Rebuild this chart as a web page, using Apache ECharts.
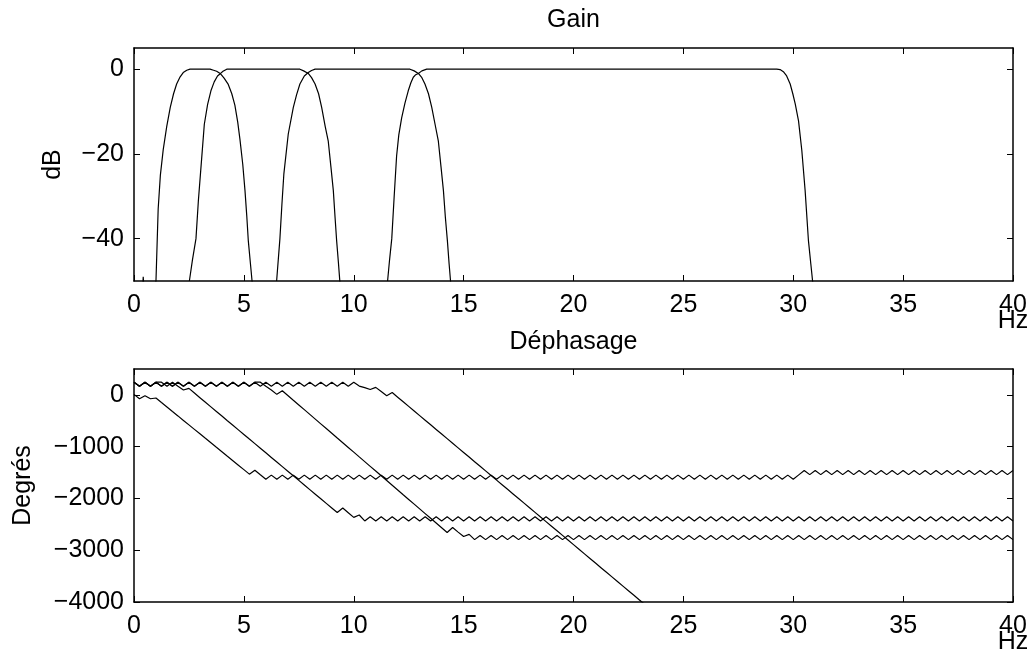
<!DOCTYPE html>
<html>
<head>
<meta charset="utf-8">
<script src="https://cdn.jsdelivr.net/npm/echarts@6/dist/echarts.min.js"></script>
<style>
html,body{margin:0;padding:0;background:#fff;}
#chart{width:1031px;height:659px;}
</style>
</head>
<body>
<div id="chart"></div>
<script>
// ---------- data ----------
const freqTicks = [0, 5, 10, 15, 20, 25, 30, 35, 40];
const gainTicks = [-40, -20, 0];
const phaseTicks = [-4000, -3000, -2000, -1000, 0];

// gain curves [Hz, dB]
const gainDelta = [[0.30,-60],[0.42,-49],[0.54,-60],[1.00,-50],[1.10,-33],[1.20,-25],[1.33,-19],[1.49,-13.5],[1.65,-9],[1.80,-5.8],[1.94,-3.5],[2.10,-1.8],[2.24,-0.8],[2.40,-0.25],[2.55,0],[3.46,0],[3.62,-0.25],[3.76,-0.5],[3.94,-1.1],[4.10,-2.1],[4.29,-3.6],[4.45,-5.8],[4.59,-8.5],[4.72,-12.5],[4.82,-16.5],[4.95,-22.5],[5.05,-28.6],[5.13,-34.5],[5.20,-40.4],[5.30,-46],[5.39,-51]];
const gainTheta = [[2.52,-50],[2.66,-45],[2.82,-40],[2.93,-31],[3.05,-23],[3.20,-13],[3.35,-8.3],[3.50,-5.1],[3.65,-3],[3.80,-1.6],[3.94,-1.0],[4.05,-0.5],[4.22,0],[7.55,0],[7.72,-0.4],[7.93,-1.0],[8.08,-2.0],[8.24,-3.5],[8.40,-5.8],[8.54,-9],[8.70,-13.5],[8.84,-17],[8.96,-23],[9.07,-28.6],[9.15,-35],[9.22,-40.4],[9.30,-45.5],[9.38,-51]];
const gainAlpha = [[6.49,-50],[6.64,-40],[6.73,-32],[6.82,-24.7],[7.02,-15.3],[7.25,-9],[7.40,-6],[7.55,-3.5],[7.75,-1.6],[7.93,-0.8],[8.08,-0.3],[8.24,0],[12.56,0],[12.75,-0.4],[12.94,-1.0],[13.10,-2.0],[13.24,-3.5],[13.40,-5.8],[13.55,-9],[13.70,-13],[13.85,-17],[13.97,-23],[14.08,-28.6],[14.17,-35],[14.26,-40.4],[14.34,-46],[14.42,-51]];
const gainBeta = [[11.54,-50],[11.63,-45],[11.73,-40],[11.84,-30],[11.95,-20.5],[12.05,-15.5],[12.18,-11.5],[12.33,-8],[12.48,-5.1],[12.60,-3.2],[12.71,-1.9],[12.82,-1.3],[12.94,-1.0],[13.10,-0.4],[13.32,0],[29.25,0],[29.40,-0.1],[29.55,-0.6],[29.70,-1.6],[29.86,-3.5],[29.98,-5.8],[30.09,-8.2],[30.24,-12.2],[30.39,-19.2],[30.54,-28.6],[30.69,-40.4],[30.80,-46],[30.90,-51]];

// phase curves sampled every 0.25 Hz (degrees)
const freqHz = [
 0,0.25,0.5,0.75,1,1.25,1.5,1.75,2,2.25,2.5,2.75,3,3.25,3.5,3.75,4,4.25,4.5,4.75,
 5,5.25,5.5,5.75,6,6.25,6.5,6.75,7,7.25,7.5,7.75,8,8.25,8.5,8.75,9,9.25,9.5,9.75,
 10,10.25,10.5,10.75,11,11.25,11.5,11.75,12,12.25,12.5,12.75,13,13.25,13.5,13.75,14,14.25,14.5,14.75,
 15,15.25,15.5,15.75,16,16.25,16.5,16.75,17,17.25,17.5,17.75,18,18.25,18.5,18.75,19,19.25,19.5,19.75,
 20,20.25,20.5,20.75,21,21.25,21.5,21.75,22,22.25,22.5,22.75,23,23.25,23.5,23.75,24,24.25,24.5,24.75,
 25,25.25,25.5,25.75,26,26.25,26.5,26.75,27,27.25,27.5,27.75,28,28.25,28.5,28.75,29,29.25,29.5,29.75,
 30,30.25,30.5,30.75,31,31.25,31.5,31.75,32,32.25,32.5,32.75,33,33.25,33.5,33.75,34,34.25,34.5,34.75,
 35,35.25,35.5,35.75,36,36.25,36.5,36.75,37,37.25,37.5,37.75,38,38.25,38.5,38.75,39,39.25,39.5,39.75,
 40];

const phaseDelta = [
 10,-75,-15,-75,-60,-147,-233,-320,-406,-493,-579,-666,-752,-839,-925,-1012,-1098,-1185,-1271,-1358,
 -1444,-1531,-1455,-1543,-1630,-1550,-1630,-1550,-1630,-1550,-1630,-1550,-1630,-1550,-1630,-1550,-1630,-1550,-1630,-1550,
 -1630,-1550,-1630,-1550,-1630,-1550,-1630,-1550,-1630,-1550,-1630,-1550,-1630,-1550,-1630,-1550,-1630,-1550,-1630,-1550,
 -1630,-1550,-1630,-1550,-1630,-1550,-1630,-1550,-1630,-1550,-1630,-1550,-1630,-1550,-1630,-1550,-1630,-1550,-1630,-1550,
 -1630,-1550,-1630,-1550,-1630,-1550,-1630,-1550,-1630,-1550,-1630,-1550,-1630,-1550,-1630,-1550,-1630,-1550,-1630,-1550,
 -1630,-1550,-1630,-1550,-1630,-1550,-1630,-1550,-1630,-1550,-1630,-1550,-1630,-1550,-1630,-1550,-1630,-1550,-1630,-1550,
 -1630,-1545,-1460,-1540,-1460,-1540,-1460,-1540,-1460,-1540,-1460,-1540,-1460,-1540,-1460,-1540,-1460,-1540,-1460,-1540,
 -1460,-1540,-1460,-1540,-1460,-1540,-1460,-1540,-1460,-1540,-1460,-1540,-1460,-1540,-1460,-1540,-1460,-1540,-1460,-1540,
 -1460];

const phaseTheta = [
 245,165,245,165,245,245,165,245,165,95,125,35,-54,-143,-231,-320,-409,-498,-586,-675,
 -764,-853,-941,-1030,-1119,-1208,-1296,-1385,-1474,-1563,-1651,-1740,-1829,-1918,-2006,-2095,-2184,-2273,-2185,-2275,
 -2365,-2320,-2435,-2355,-2435,-2355,-2435,-2355,-2435,-2355,-2435,-2355,-2435,-2355,-2435,-2355,-2435,-2355,-2435,-2355,
 -2435,-2355,-2435,-2355,-2435,-2355,-2435,-2355,-2435,-2355,-2435,-2355,-2435,-2355,-2435,-2355,-2435,-2355,-2435,-2355,
 -2435,-2355,-2435,-2355,-2435,-2355,-2435,-2355,-2435,-2355,-2435,-2355,-2435,-2355,-2435,-2355,-2435,-2355,-2435,-2355,
 -2435,-2355,-2435,-2355,-2435,-2355,-2435,-2355,-2435,-2355,-2435,-2355,-2435,-2355,-2435,-2355,-2435,-2355,-2435,-2355,
 -2435,-2355,-2435,-2355,-2435,-2355,-2435,-2355,-2435,-2355,-2435,-2355,-2435,-2355,-2435,-2355,-2435,-2355,-2435,-2355,
 -2435,-2355,-2435,-2355,-2435,-2355,-2435,-2355,-2435,-2355,-2435,-2355,-2435,-2355,-2435,-2355,-2435,-2355,-2435,-2355,
 -2435];

const phaseAlpha = [
 245,165,245,165,245,165,245,165,245,165,245,165,245,165,245,165,245,165,245,165,
 245,165,245,245,165,95,10,80,-11,-103,-194,-285,-376,-468,-559,-650,-741,-833,-924,-1015,
 -1106,-1198,-1289,-1380,-1471,-1563,-1654,-1745,-1836,-1928,-2019,-2110,-2201,-2293,-2384,-2475,-2566,-2658,-2560,-2650,
 -2735,-2695,-2795,-2715,-2795,-2715,-2795,-2715,-2795,-2715,-2795,-2715,-2795,-2715,-2795,-2715,-2795,-2715,-2795,-2715,
 -2795,-2715,-2795,-2715,-2795,-2715,-2795,-2715,-2795,-2715,-2795,-2715,-2795,-2715,-2795,-2715,-2795,-2715,-2795,-2715,
 -2795,-2715,-2795,-2715,-2795,-2715,-2795,-2715,-2795,-2715,-2795,-2715,-2795,-2715,-2795,-2715,-2795,-2715,-2795,-2715,
 -2795,-2715,-2795,-2715,-2795,-2715,-2795,-2715,-2795,-2715,-2795,-2715,-2795,-2715,-2795,-2715,-2795,-2715,-2795,-2715,
 -2795,-2715,-2795,-2715,-2795,-2715,-2795,-2715,-2795,-2715,-2795,-2715,-2795,-2715,-2795,-2715,-2795,-2715,-2795,-2715,
 -2795];

const phaseBeta = [
 245,165,245,165,245,165,245,165,245,165,245,165,245,165,245,165,245,165,245,165,
 245,165,245,165,245,165,245,165,245,165,245,165,245,165,245,165,245,165,245,165,
 245,170,140,105,145,65,-15,45,-44,-133,-222,-311,-400,-489,-578,-667,-756,-845,-934,-1023,
 -1112,-1201,-1290,-1379,-1468,-1557,-1646,-1735,-1824,-1913,-2002,-2091,-2180,-2269,-2358,-2447,-2536,-2625,-2714,-2803,
 -2892,-2981,-3070,-3159,-3248,-3337,-3426,-3515,-3604,-3693,-3782,-3871,-3960,-4049,-4138];

// ---------- chart ----------
const FONT = "'Liberation Sans', Arial, Helvetica, sans-serif";
const FS = 25;
const minusFmt = v => String(v).replace('-', '\u2212');
const pair = ys => ys.map((y, i) => [freqHz[i], y]);

function xAx(grid, pos, showLabel) {
  const a = {
    gridIndex: grid, type: 'value', position: pos, min: 0, max: 40, interval: 5,
    axisLine: { show: true, onZero: false, lineStyle: { color: '#000', width: 1.5 } },
    axisTick: { show: true, inside: true, length: 6, lineStyle: { color: '#000', width: 1 } },
    axisLabel: { show: showLabel, color: '#000', fontFamily: FONT, fontSize: FS, margin: 12,
                 customValues: freqTicks },
    splitLine: { show: false }
  };
  if (showLabel) {
    a.name = 'Hz';
    a.nameLocation = 'end';
    a.nameGap = 0;
    a.nameMoveOverlap = false;
    a.nameTextStyle = { color: '#000', fontFamily: FONT, fontSize: FS, align: 'center',
                        verticalAlign: 'top', padding: [28, 0, 0, 0] };
  }
  return a;
}
function yAx(grid, pos, min, max, ticks, showLabel, name, gap) {
  const a = {
    gridIndex: grid, type: 'value', position: pos, min: min, max: max,
    axisLine: { show: true, onZero: false, lineStyle: { color: '#000', width: 1.5 } },
    axisTick: { show: true, inside: true, length: 6, lineStyle: { color: '#000', width: 1 },
                customValues: ticks },
    axisLabel: { show: showLabel, color: '#000', fontFamily: FONT, fontSize: FS, margin: 10,
                 customValues: ticks, formatter: minusFmt },
    splitLine: { show: false }
  };
  if (name) {
    a.name = name;
    a.nameLocation = 'middle';
    a.nameGap = gap;
    a.nameMoveOverlap = false;
    a.nameTextStyle = { color: '#000', fontFamily: FONT, fontSize: FS };
  }
  return a;
}
function line(data, xi, yi) {
  return { type: 'line', data: data, xAxisIndex: xi, yAxisIndex: yi, showSymbol: false,
           symbol: 'none', clip: true, silent: true,
           lineStyle: { color: '#000', width: 1.2 } };
}

const chart = echarts.init(document.getElementById('chart'), null, { renderer: 'canvas' });
chart.setOption({
  animation: false,
  backgroundColor: '#fff',
  title: [
    { text: 'Gain', left: 573.5, top: 8, textAlign: 'center', padding: 0,
      textStyle: { fontFamily: FONT, fontSize: FS, fontWeight: 'normal', color: '#000' } },
    { text: 'Déphasage', left: 573.5, top: 330, textAlign: 'center', padding: 0,
      textStyle: { fontFamily: FONT, fontSize: FS, fontWeight: 'normal', color: '#000' } }
  ],
  grid: [
    { left: 134, top: 48, width: 879, height: 233, outerBoundsMode: 'none' },
    { left: 134, top: 369, width: 879, height: 233, outerBoundsMode: 'none' }
  ],
  xAxis: [xAx(0, 'bottom', true), xAx(0, 'top', false), xAx(1, 'bottom', true), xAx(1, 'top', false)],
  yAxis: [
    yAx(0, 'left', -50, 5, gainTicks, true, 'dB', 68),
    yAx(0, 'right', -50, 5, gainTicks, false),
    yAx(1, 'left', -4000, 500, phaseTicks, true, 'Degrés', 98),
    yAx(1, 'right', -4000, 500, phaseTicks, false)
  ],
  series: [
    line(gainDelta, 0, 0), line(gainTheta, 0, 0), line(gainAlpha, 0, 0), line(gainBeta, 0, 0),
    line(pair(phaseDelta), 2, 2), line(pair(phaseTheta), 2, 2),
    line(pair(phaseAlpha), 2, 2), line(pair(phaseBeta), 2, 2)
  ]
});
</script>
</body>
</html>
